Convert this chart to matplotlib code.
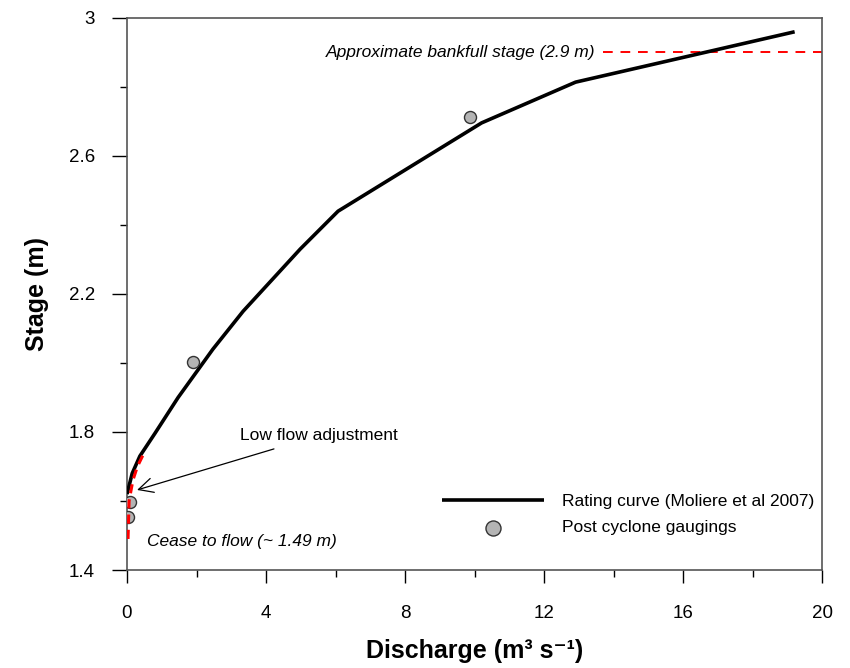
import matplotlib
matplotlib.use('Agg')
import matplotlib.pyplot as plt
from matplotlib.ticker import MultipleLocator

plt.rcParams['font.family'] = ['Liberation Sans', 'DejaVu Sans']

# rating curve (Moliere et al 2007)
rating_q = [0.0, 0.15, 0.37, 0.81, 1.47, 2.47, 3.34, 4.98, 6.07, 10.2, 12.9, 19.2]
rating_stage = [1.62, 1.68, 1.73, 1.797, 1.90, 2.04, 2.15, 2.33, 2.44, 2.696, 2.814, 2.96]

# low flow adjustment (red dashed)
lowflow_q = [0.03, 0.06, 0.17, 0.30, 0.46]
lowflow_stage = [1.49, 1.60, 1.66, 1.70, 1.733]

# post cyclone gaugings
gauge_q = [0.03, 0.09, 1.9, 9.87]
gauge_stage = [1.554, 1.597, 2.003, 2.713]

bankfull_stage = 2.9
bankfull_q = [13.7, 20.0]

FS = 12.5

fig = plt.figure(figsize=(8.5, 6.68), dpi=100)
ax = fig.add_axes([0.1494, 0.1467, 0.8182, 0.8264])

ax.plot(rating_q, rating_stage, color='black', lw=2.6, solid_capstyle='butt',
        label='Rating curve (Moliere et al 2007)', zorder=3)
ax.plot(lowflow_q, lowflow_stage, color='red', lw=2.2, ls=(0, (3, 2)), zorder=6)
ax.plot(bankfull_q, [bankfull_stage, bankfull_stage], color='red', lw=1.4,
        ls=(0, (5, 4)), zorder=2)
ax.scatter(gauge_q, gauge_stage, s=75, facecolor='#b4b4b4', edgecolor='#333333',
           linewidth=1.0, zorder=5, label='Post cyclone gaugings')

ax.text(13.47, bankfull_stage, 'Approximate bankfull stage (2.9 m)', style='italic',
        fontsize=FS, ha='right', va='center')
ax.text(0.58, 1.484, 'Cease to flow (~ 1.49 m)', style='italic', fontsize=FS,
        ha='left', va='center')
ax.annotate('Low flow adjustment', xy=(0.29, 1.632), xytext=(3.25, 1.79),
            fontsize=FS, ha='left', va='center',
            arrowprops=dict(arrowstyle='->', color='black', lw=0.9,
                            mutation_scale=26, shrinkA=8, shrinkB=0))

ax.set_xlim(0, 20)
ax.set_ylim(1.4, 3.0)
ax.xaxis.set_minor_locator(MultipleLocator(2))
ax.yaxis.set_minor_locator(MultipleLocator(0.2))
ax.set_xticks([0, 4, 8, 12, 16, 20])
ax.set_xticklabels(['0', '4', '8', '12', '16', '20'])
ax.set_yticks([1.4, 1.8, 2.2, 2.6, 3.0])
ax.set_yticklabels(['1.4', '1.8', '2.2', '2.6', '3'])
ax.tick_params(axis='x', which='major', direction='out', length=9.5, width=1, labelsize=13.5, pad=16)
ax.tick_params(axis='y', which='major', direction='out', length=11, width=1, labelsize=13.5, pad=12)
ax.tick_params(which='minor', direction='out', length=5, width=1)
for s in ax.spines.values():
    s.set_color('#555555')
    s.set_linewidth(1.2)

ax.set_xlabel('Discharge (m\u00b3 s\u207b\u00b9)', fontsize=18, fontweight='bold', labelpad=12)
ax.set_ylabel('Stage (m)', fontsize=18, fontweight='bold', labelpad=14)

ax.legend(loc='lower right', bbox_to_anchor=(1.01, 0.035), frameon=False, fontsize=FS,
          handlelength=5.9, handletextpad=1.0, labelspacing=0.6, markerscale=1.25)

fig.savefig('out.png', dpi=100)
